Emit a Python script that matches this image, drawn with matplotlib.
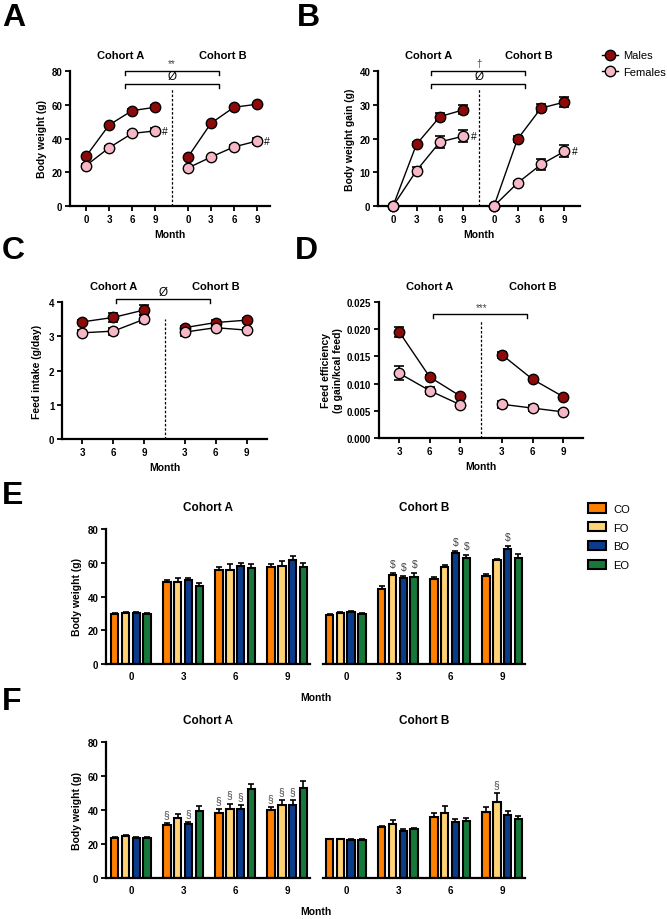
import matplotlib.pyplot as plt
from matplotlib.lines import Line2D
from matplotlib.patches import Patch
import numpy as np

plt.rcParams['font.family'] = ['Liberation Sans', 'DejaVu Sans']

# ---- data ----
months_ab = [0, 3, 6, 9]
months_cd = [3, 6, 9]

# A: body weight (g)
bw_m_a = [29.5, 48.0, 56.5, 58.5]
bw_m_a_err = [0.8, 0.8, 1.0, 1.2]
bw_f_a = [24.0, 34.5, 43.0, 44.5]
bw_f_a_err = [0.8, 1.0, 1.2, 1.5]
bw_m_b = [29.0, 49.0, 58.5, 60.3]
bw_m_b_err = [0.8, 1.0, 1.0, 1.0]
bw_f_b = [22.5, 29.0, 35.0, 38.5]
bw_f_b_err = [0.7, 0.8, 1.2, 2.0]

# B: body weight gain (g)
gain_m_a = [0, 18.3, 26.5, 28.5]
gain_m_a_err = [0, 0.6, 1.2, 1.3]
gain_f_a = [0, 10.5, 19.0, 20.7]
gain_f_a_err = [0, 1.0, 1.8, 1.8]
gain_m_b = [0, 19.8, 29.0, 30.8]
gain_m_b_err = [0, 0.8, 1.2, 1.4]
gain_f_b = [0, 6.8, 12.3, 16.2]
gain_f_b_err = [0, 0.6, 1.5, 1.8]

# C: feed intake (g/day)
fi_m_a = [3.42, 3.55, 3.77]
fi_m_a_err = [0.05, 0.12, 0.15]
fi_f_a = [3.10, 3.15, 3.50]
fi_f_a_err = [0.07, 0.10, 0.12]
fi_m_b = [3.25, 3.40, 3.47]
fi_m_b_err = [0.05, 0.06, 0.05]
fi_f_b = [3.12, 3.25, 3.18]
fi_f_b_err = [0.10, 0.07, 0.06]

# D: feed efficiency
fe_m_a = [0.0195, 0.0112, 0.0077]
fe_m_a_err = [0.0009, 0.0003, 0.0003]
fe_f_a = [0.0119, 0.0087, 0.0061]
fe_f_a_err = [0.0013, 0.0007, 0.0004]
fe_m_b = [0.0153, 0.0108, 0.0076]
fe_m_b_err = [0.0006, 0.0003, 0.0002]
fe_f_b = [0.0062, 0.0055, 0.0048]
fe_f_b_err = [0.0006, 0.0005, 0.0004]

# E / F: body weight per group, rows = months, cols = groups
groups = ['CO', 'FO', 'BO', 'EO']
group_colors = ['#FF7F00', '#FFD273', '#0B3C8C', '#16793A']

e_a = [[29.9, 30.5, 30.0, 29.5], [48.3, 48.7, 49.7, 46.3],
       [56.0, 56.0, 58.2, 56.6], [57.4, 58.2, 61.6, 57.2]]
e_a_err = [[0.6, 0.6, 0.6, 0.5], [1.5, 2.5, 1.5, 1.8],
           [1.3, 3.0, 1.8, 2.8], [2.0, 3.0, 2.2, 2.8]]
e_b = [[29.1, 30.1, 30.7, 29.7], [44.2, 52.9, 50.9, 51.3],
       [50.3, 57.4, 65.7, 63.0], [52.3, 61.4, 68.1, 62.8]]
e_b_err = [[0.5, 0.6, 0.5, 0.5], [2.0, 1.2, 1.2, 2.5],
           [1.5, 1.5, 1.2, 1.5], [0.8, 1.0, 2.0, 2.2]]
e_a_marks = [['', '', '', ''], ['', '', '', ''], ['', '', '', ''], ['', '', '', '']]
e_b_marks = [['', '', '', ''], ['', '$', '$', '$'], ['', '', '$', '$'], ['', '', '$', '']]

f_a = [[23.5, 24.7, 23.5, 23.5], [31.4, 35.3, 31.6, 39.4],
       [38.4, 40.8, 40.6, 52.2], [40.0, 42.9, 43.1, 52.9]]
f_a_err = [[0.4, 0.4, 0.4, 0.4], [1.0, 2.5, 1.3, 3.0],
           [2.0, 3.0, 2.3, 3.3], [1.8, 3.0, 2.5, 4.0]]
f_b = [[22.7, 22.7, 22.5, 22.5], [29.8, 31.6, 27.8, 28.6],
       [36.1, 38.0, 32.9, 33.3], [39.0, 44.5, 37.1, 34.7]]
f_b_err = [[0.4, 0.4, 0.4, 0.4], [0.8, 2.8, 1.0, 1.0],
           [2.2, 4.5, 2.0, 2.0], [2.5, 5.5, 2.5, 1.8]]
f_a_marks = [['', '', '', ''], ['§', '', '§', ''], ['§', '§', '§', ''], ['§', '§', '§', '']]
f_b_marks = [['', '', '', ''], ['', '', '', ''], ['', '', '', ''], ['', '§', '', '']]

male_col = '#8C0A0A'
female_col = '#F6B8C6'

W, H = 667, 920
fig = plt.figure(figsize=(6.67, 9.2), dpi=100)


def px_axes(l, t, r, b):
    return fig.add_axes([l / W, 1 - b / H, (r - l) / W, (b - t) / H])


def style(ax):
    for s in ['top', 'right']:
        ax.spines[s].set_visible(False)
    for s in ['left', 'bottom']:
        ax.spines[s].set_linewidth(1.6)
    ax.tick_params(direction='out', length=3.5, width=1.3, labelsize=7, pad=2)
    for lab in ax.get_xticklabels() + ax.get_yticklabels():
        lab.set_fontweight('bold')


def line_panel(ax, series, n, b_off, dash_x, dash_top, xlim, ylim, yticks, months):
    xa = np.arange(n)
    xb = xa + b_off
    for va, ea, vb, eb, col, z in series:
        for xs, v, e in ((xa, va, ea), (xb, vb, eb)):
            ax.errorbar(xs, v, yerr=e, color='black', lw=1, capsize=3.5, capthick=1.2,
                        elinewidth=1.2, zorder=z, clip_on=False)
            ax.plot(xs, v, 'o', ms=7.5, mfc=col, mec='black', mew=1, zorder=z + 0.5, clip_on=False)
    ax.plot([dash_x, dash_x], [0, dash_top], transform=ax.get_xaxis_transform(),
            color='black', lw=0.9, ls=(0, (2, 1.5)))
    ax.set_xlim(*xlim)
    ax.set_ylim(*ylim)
    ax.set_yticks(yticks)
    ax.set_xticks(list(xa) + list(xb))
    ax.set_xticklabels([str(m) for m in months] * 2)
    style(ax)
    ax.set_xlabel('Month', fontsize=7.5, fontweight='bold', labelpad=4)
    tr = ax.get_xaxis_transform()
    ax.text(xa.mean(), 1.115, 'Cohort A', transform=tr, ha='center', va='center',
            fontsize=8, fontweight='bold')
    ax.text(xb.mean(), 1.115, 'Cohort B', transform=tr, ha='center', va='center',
            fontsize=8, fontweight='bold')


def bracket(ax, x1, x2, y, leg=0.03):
    ax.plot([x1, x1, x2, x2], [y - leg, y, y, y - leg], transform=ax.get_xaxis_transform(),
            color='black', lw=1, clip_on=False)


# ---- A ----
axA = px_axes(70, 72, 270, 207)
line_panel(axA, [(bw_m_a, bw_m_a_err, bw_m_b, bw_m_b_err, male_col, 3),
                 (bw_f_a, bw_f_a_err, bw_f_b, bw_f_b_err, female_col, 4)],
           4, 4.43, 3.74, 0.874, (-0.7, 8.0), (0, 80), [0, 20, 40, 60, 80], months_ab)
axA.set_ylabel('Body weight (g)', fontsize=7.5, fontweight='bold', labelpad=3)
bracket(axA, 1.7, 5.78, 1.0)
bracket(axA, 1.7, 5.78, 0.904)
trA = axA.get_xaxis_transform()
axA.text(3.74, 1.06, '**', transform=trA, ha='center', va='center', fontsize=7, color='#444444')
axA.text(3.74, 0.963, 'Ø', transform=trA, ha='center', va='center', fontsize=8.5)
axA.text(3 + 0.3, bw_f_a[-1], '#', ha='left', va='center', fontsize=7.5)
axA.text(3 + 4.43 + 0.3, bw_f_b[-1], '#', ha='left', va='center', fontsize=7.5)

# ---- B ----
axB = px_axes(378, 72, 580, 207)
line_panel(axB, [(gain_m_a, gain_m_a_err, gain_m_b, gain_m_b_err, male_col, 3),
                 (gain_f_a, gain_f_a_err, gain_f_b, gain_f_b_err, female_col, 4)],
           4, 4.3, 3.66, 0.874, (-0.64, 7.96), (0, 40), [0, 10, 20, 30, 40], months_ab)
axB.set_ylabel('Body weight gain (g)', fontsize=7.5, fontweight='bold', labelpad=3)
bracket(axB, 1.62, 5.62, 1.0)
bracket(axB, 1.62, 5.62, 0.904)
trB = axB.get_xaxis_transform()
axB.text(3.66, 1.06, '†', transform=trB, ha='center', va='center', fontsize=7, color='#444444')
axB.text(3.66, 0.963, 'Ø', transform=trB, ha='center', va='center', fontsize=8.5)
axB.text(3 + 0.3, gain_f_a[-1], '#', ha='left', va='center', fontsize=7.5)
axB.text(3 + 4.3 + 0.3, gain_f_b[-1], '#', ha='left', va='center', fontsize=7.5)
leg_handles = [Line2D([], [], color='black', lw=1, marker='o', ms=7.5, mfc=male_col, mec='black'),
               Line2D([], [], color='black', lw=1, marker='o', ms=7.5, mfc=female_col, mec='black')]
fig.legend(leg_handles, ['Males', 'Females'], loc='upper left',
           bbox_to_anchor=(598 / W, 1 - 47 / H), frameon=False, fontsize=8,
           handlelength=1.4, labelspacing=0.55, handletextpad=0.5, borderaxespad=0)

# ---- C ----
axC = px_axes(62, 303, 267, 440)
line_panel(axC, [(fi_m_a, fi_m_a_err, fi_m_b, fi_m_b_err, male_col, 3),
                 (fi_f_a, fi_f_a_err, fi_f_b, fi_f_b_err, female_col, 4)],
           3, 3.29, 2.65, 0.876, (-0.66, 5.95), (0, 4), [0, 1, 2, 3, 4], months_cd)
axC.set_ylabel('Feed intake (g/day)', fontsize=7.5, fontweight='bold', labelpad=5)
bracket(axC, 1.08, 4.11, 1.02)
axC.text(2.6, 1.075, 'Ø', transform=axC.get_xaxis_transform(), ha='center', va='center', fontsize=8.5)

# ---- D ----
axD = px_axes(379, 303, 583, 439)
line_panel(axD, [(fe_m_a, fe_m_a_err, fe_m_b, fe_m_b_err, male_col, 3),
                 (fe_f_a, fe_f_a_err, fe_f_b, fe_f_b_err, female_col, 4)],
           3, 3.36, 2.69, 0.868, (-0.66, 6.01), (0, 0.025),
           [0, 0.005, 0.010, 0.015, 0.020, 0.025], months_cd)
axD.set_yticklabels(['0.000', '0.005', '0.010', '0.015', '0.020', '0.025'], fontweight='bold')
axD.set_ylabel('Feed efficiency\n(g gain/kcal feed)', fontsize=7.5, fontweight='bold', labelpad=3)
bracket(axD, 1.1, 4.18, 0.91)
axD.text(2.69, 0.965, '***', transform=axD.get_xaxis_transform(), ha='center', va='center',
         fontsize=7, color='#444444')


# ---- E / F ----
def bar_panel(ax, vals, errs, marks, xlim, show_y):
    vals = np.array(vals)
    errs = np.array(errs)
    gx = np.arange(len(vals))
    for k in range(len(groups)):
        xs = gx + (k - 1.5) * 0.21
        ax.bar(xs, vals[:, k], width=0.15, color=group_colors[k], edgecolor='black', lw=1.5, zorder=2)
        ax.errorbar(xs, vals[:, k], yerr=[np.zeros(len(xs)), errs[:, k]], fmt='none',
                    ecolor='black', elinewidth=1.2, capsize=2, capthick=1.2, zorder=1)
        for i in range(len(xs)):
            if marks[i][k]:
                ax.annotate(marks[i][k], (xs[i], vals[i, k] + errs[i, k]), xytext=(0, 3),
                            textcoords='offset points', ha='center', va='bottom',
                            fontsize=7.5, color='#444444')
    ax.set_xlim(*xlim)
    ax.set_ylim(0, 80)
    ax.set_xticks(gx)
    ax.set_xticklabels([str(m) for m in months_ab])
    style(ax)
    ax.tick_params(axis='x', length=0, pad=5)
    if show_y:
        ax.set_yticks([0, 20, 40, 60, 80])
        ax.set_ylabel('Body weight (g)', fontsize=7.5, fontweight='bold', labelpad=4)
    else:
        ax.spines['left'].set_visible(False)
        ax.set_yticks([])


for (top, bot, va, vae, vb, vbe, ma, mb) in [
        (530, 665, e_a, e_a_err, e_b, e_b_err, e_a_marks, e_b_marks),
        (743, 879, f_a, f_a_err, f_b, f_b_err, f_a_marks, f_b_marks)]:
    axl = px_axes(106, top, 310, bot)
    bar_panel(axl, va, vae, ma, (-0.48, 3.44), True)
    axr = px_axes(323, top, 525, bot)
    bar_panel(axr, vb, vbe, mb, (-0.44, 3.44), False)
    axl.set_title('Cohort A', fontsize=8.5, fontweight='bold', pad=14)
    axr.set_title('Cohort B', fontsize=8.5, fontweight='bold', pad=14)
    fig.text(316 / W, 1 - (bot + 33) / H, 'Month', ha='center', va='center',
             fontsize=7.5, fontweight='bold')

fig.legend([Patch(facecolor=c, edgecolor='black', lw=1.5) for c in group_colors], groups,
           loc='upper left', bbox_to_anchor=(584 / W, 1 - 500 / H), frameon=False, fontsize=8,
           handlelength=1.6, handleheight=0.9, labelspacing=0.75, handletextpad=0.6,
           borderaxespad=0)

# panel letters
for letter, x, y in [('A', 2, 18), ('B', 297, 18), ('C', 2, 251), ('D', 295, 251),
                     ('E', 2, 496), ('F', 2, 702)]:
    fig.text(x / W, 1 - y / H, letter, fontsize=23, fontweight='bold', ha='left', va='center')

fig.savefig('out.png', dpi=100)
